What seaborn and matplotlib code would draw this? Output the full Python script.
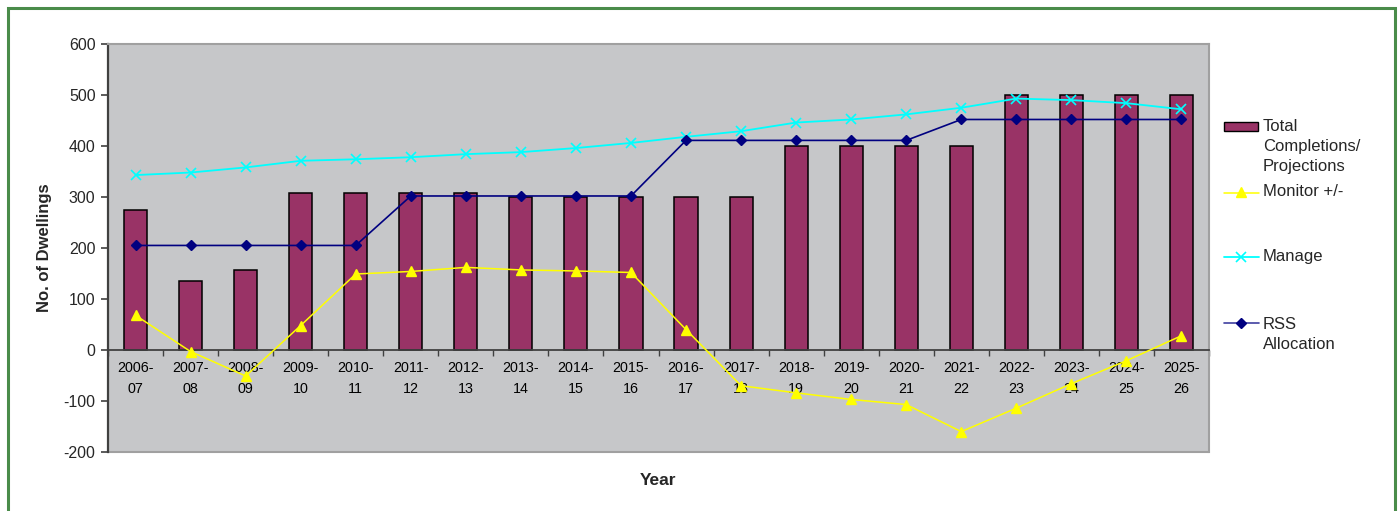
import numpy as np
import pandas as pd
import matplotlib
matplotlib.use("Agg")
import matplotlib.pyplot as plt
import seaborn as sns
from matplotlib.lines import Line2D
from matplotlib.patches import Rectangle

years = ["2006-\n07", "2007-\n08", "2008-\n09", "2009-\n10", "2010-\n11",
         "2011-\n12", "2012-\n13", "2013-\n14", "2014-\n15", "2015-\n16",
         "2016-\n17", "2017-\n18", "2018-\n19", "2019-\n20", "2020-\n21",
         "2021-\n22", "2022-\n23", "2023-\n24", "2024-\n25", "2025-\n26"]
completions = [275, 135, 157, 307, 307, 307, 307, 300, 300, 300,
               300, 300, 400, 400, 400, 400, 500, 500, 500, 500]
monitor = [68, -3, -51, 48, 149, 154, 162, 157, 155, 152,
           40, -70, -84, -97, -107, -160, -114, -66, -21, 28]
manage = [343, 348, 358, 371, 374, 378, 384, 388, 396, 406,
          418, 429, 446, 452, 462, 475, 493, 490, 484, 472]
rss = [205, 205, 205, 205, 205, 302, 302, 302, 302, 302,
       411, 411, 411, 411, 411, 452, 452, 452, 452, 452]
yticks = [-200, -100, 0, 100, 200, 300, 400, 500, 600]

sns.set_style("white")
plt.rcParams["font.family"] = ["Liberation Sans", "DejaVu Sans"]

W, H = 1398, 511
fig = plt.figure(figsize=(W / 100, H / 100), dpi=100)
fig.patch.set_facecolor("white")


def fx(x):
    return x / W


def fy(y):
    return 1 - y / H


# outer green border
fig.add_artist(Rectangle((fx(8), fy(560)), fx(1395) - fx(8), fy(8) - fy(560),
                         transform=fig.transFigure, fill=False,
                         edgecolor="#4a8c4a", linewidth=2.2))

ax = fig.add_axes([fx(108), fy(452), fx(1209) - fx(108), fy(44) - fy(452)])
ax.set_facecolor("#c6c7c9")

df = pd.DataFrame({"Year": years, "Completions": completions})
sns.barplot(data=df, x="Year", y="Completions", color="#993366",
            saturation=1, edgecolor="black", linewidth=1.1, width=0.42,
            ax=ax, zorder=2)

xi = np.arange(len(years))
ax.plot(xi, monitor, color="#ffff00", lw=1.1, marker="^", ms=7.5,
        mec="#ffff00", mfc="#ffff00", zorder=4)
ax.plot(xi, manage, color="#00ffff", lw=1.3, marker="x", ms=7, mew=1.2,
        mec="#00ffff", zorder=4)
ax.plot(xi, rss, color="#000080", lw=1.2, marker="D", ms=5,
        mec="#000080", mfc="#000080", zorder=5)

ax.set_xlim(-0.5, len(years) - 0.5)
ax.set_ylim(-200, 600)
ax.set_yticks(yticks)
ax.set_yticklabels([str(v) for v in yticks])

for s in ["top", "right"]:
    ax.spines[s].set_color("#a0a0a0")
    ax.spines[s].set_linewidth(1.5)
ax.spines["left"].set_color("#404040")
ax.spines["left"].set_linewidth(1.6)
ax.spines["bottom"].set_position(("data", 0))
ax.spines["bottom"].set_color("#404040")
ax.spines["bottom"].set_linewidth(1.3)
ax.axhline(-200, color="#a0a0a0", lw=1.5, clip_on=False, zorder=1)

ax.set_xticks(np.arange(-0.5, len(years), 1), minor=True)
ax.tick_params(axis="x", which="major", length=0, pad=8, labelsize=10.3,
               labelcolor="black")
ax.tick_params(axis="x", which="minor", length=4, width=1,
               color="#404040", direction="out", bottom=True)
ax.tick_params(axis="y", which="major", length=5, width=1.2,
               color="#404040", direction="out", left=True, pad=4,
               labelsize=11.5)
for lab in ax.get_xticklabels():
    lab.set_linespacing(1.65)

ax.set_xlabel("Year", fontsize=12.5, fontweight="bold", va="center")
ax.xaxis.set_label_coords(0.5, (452 - 480) / 408)
ax.set_ylabel("No. of Dwellings", fontsize=12, fontweight="bold",
              va="center")
ax.yaxis.set_label_coords((44 - 108) / 1101, 0.5)

# legend (drawn manually to match the original spacing)
lfs = 12
fig.add_artist(Rectangle((fx(1224), fy(131.5)), fx(1258) - fx(1224),
                         fy(122.5) - fy(131.5), transform=fig.transFigure,
                         facecolor="#993366", edgecolor="black", lw=1))
fig.text(fx(1263), fy(119), "Total\nCompletions/\nProjections",
         fontsize=lfs, va="top", ha="left", linespacing=1.43)

fig.add_artist(Line2D([fx(1224), fx(1259)], [fy(193), fy(193)],
                      transform=fig.transFigure, color="#ffff00", lw=1.1))
fig.add_artist(Line2D([fx(1241)], [fy(192)], transform=fig.transFigure,
                      marker="^", ms=7.5, color="#ffff00", lw=0))
fig.text(fx(1263), fy(192), "Monitor +/-", fontsize=lfs, va="center",
         ha="left")

fig.add_artist(Line2D([fx(1224), fx(1259)], [fy(257), fy(257)],
                      transform=fig.transFigure, color="#00ffff", lw=1.3))
fig.add_artist(Line2D([fx(1241)], [fy(257)], transform=fig.transFigure,
                      marker="x", ms=7, mew=1.2, color="#00ffff", lw=0))
fig.text(fx(1263), fy(256), "Manage", fontsize=lfs, va="center", ha="left")

fig.add_artist(Line2D([fx(1224), fx(1259)], [fy(323), fy(323)],
                      transform=fig.transFigure, color="#000080", lw=1.2,
                      alpha=0.75))
fig.add_artist(Line2D([fx(1241)], [fy(323)], transform=fig.transFigure,
                      marker="D", ms=5, color="#000080", lw=0))
fig.text(fx(1263), fy(317), "RSS\nAllocation", fontsize=lfs, va="top",
         ha="left", linespacing=1.43)

fig.savefig("out.png", dpi=100, facecolor="white")
